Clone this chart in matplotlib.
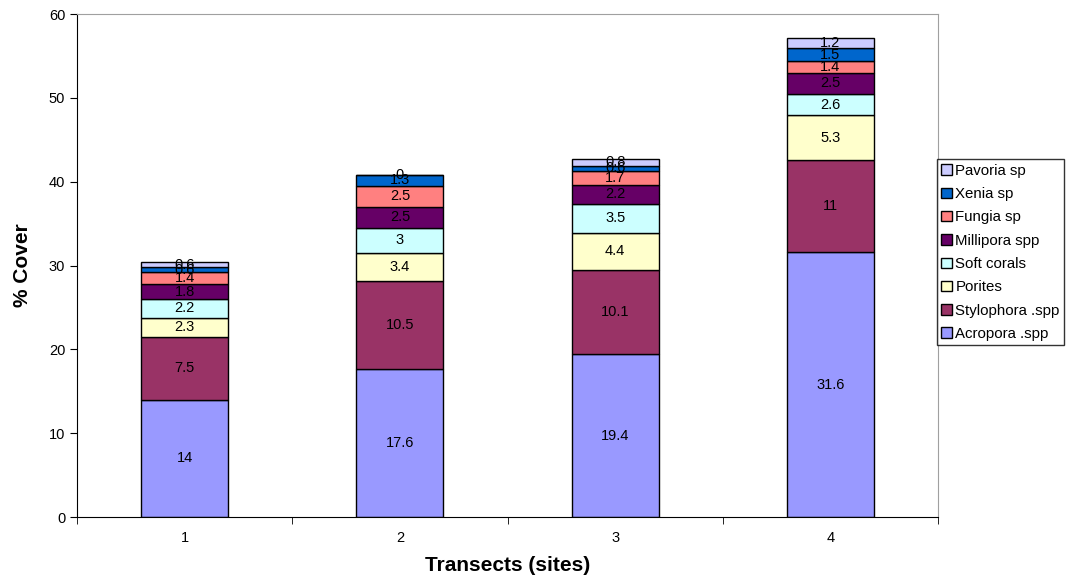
import matplotlib.pyplot as plt
import numpy as np

# % cover of each coral group per transect
sites = ["1", "2", "3", "4"]
acropora = [14, 17.6, 19.4, 31.6]
stylophora = [7.5, 10.5, 10.1, 11]
porites = [2.3, 3.4, 4.4, 5.3]
soft_corals = [2.2, 3, 3.5, 2.6]
millipora = [1.8, 2.5, 2.2, 2.5]
fungia = [1.4, 2.5, 1.7, 1.4]
xenia = [0.6, 1.3, 0.6, 1.5]
pavoria = [0.6, 0, 0.8, 1.2]

groups = ["Acropora .spp", "Stylophora .spp", "Porites", "Soft corals",
          "Millipora spp", "Fungia sp", "Xenia sp", "Pavoria sp"]
series = [acropora, stylophora, porites, soft_corals, millipora, fungia, xenia, pavoria]
colors = ["#9999FF", "#993366", "#FFFFCC", "#CCFFFF",
          "#660066", "#FF8080", "#0066CC", "#CCCCFF"]

plt.rcParams['font.family'] = ['Liberation Sans', 'DejaVu Sans']

fig = plt.figure(figsize=(10.68, 5.86), dpi=100)
ax = fig.add_axes([0.0721, 0.1177, 0.8062, 0.8583])

x = np.arange(1, len(sites) + 1)
bottom = np.zeros(len(sites))
handles = []
for name, vals, col in zip(groups, series, colors):
    vals = np.array(vals, dtype=float)
    bars = ax.bar(x, vals, width=0.405, bottom=bottom, color=col,
                  edgecolor="black", linewidth=1.0, label=name)
    handles.append(bars)
    for xi, b, v in zip(x, bottom, vals):
        ax.text(xi, b + v / 2, f"{v:g}", ha="center", va="center",
                fontsize=10.5, color="black")
    bottom += vals

ax.set_xlim(0.5, 4.5)
ax.set_ylim(0, 60)
ax.set_yticks(range(0, 61, 10))
ax.set_xticks(x)
ax.set_xticklabels(sites)
ax.set_xticks(np.arange(0.5, 4.6, 1), minor=True)
ax.tick_params(axis="x", which="major", length=0, pad=10, labelsize=10.5)
ax.tick_params(axis="x", which="minor", length=5, direction="out")
ax.tick_params(axis="y", length=5, direction="out", labelsize=10.5)

for s in ["top", "right"]:
    ax.spines[s].set_color("#A0A0A0")
for s in ["left", "bottom"]:
    ax.spines[s].set_color("black")

ax.set_ylabel("% Cover", fontsize=15, fontweight="bold", labelpad=12)
ax.set_xlabel("Transects (sites)", fontsize=15, fontweight="bold", labelpad=8)

leg = fig.legend(handles[::-1], groups[::-1], loc="upper left",
                 bbox_to_anchor=(0.877, 0.728), fontsize=10.8, frameon=True,
                 fancybox=False, edgecolor="black", handlelength=0.7,
                 handleheight=0.7, handletextpad=0.25, labelspacing=0.62,
                 borderpad=0.3, borderaxespad=0)
leg.get_frame().set_linewidth(1.0)

fig.savefig("out.png", dpi=100)
